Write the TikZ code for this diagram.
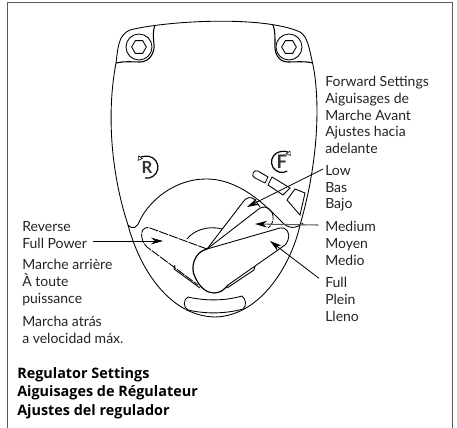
\documentclass[tikz,border=0pt]{standalone}
\usepackage{fontspec}
\setmainfont{Lato}
\newfontfamily\regfont{Open Sans}
\usetikzlibrary{arrows.meta,positioning,shapes.geometric}
\definecolor{frameGray}{RGB}{90,90,90}
\definecolor{labelGray}{RGB}{35,35,35}
\begin{document}
\begin{tikzpicture}[x=0.75pt,y=-0.75pt,>={Stealth[length=9pt,width=5pt]},
  outline/.style={draw=black, line width=0.65pt},
  screwring/.style={circle, outline, minimum size=19.5pt, inner sep=0pt},
  screwhex/.style={regular polygon, regular polygon sides=6, outline, minimum size=11pt, inner sep=0pt},
  leader/.style={->, draw=black, line width=0.6pt},
  turn/.style={line width=0.9pt, -{Triangle[open,length=3.5pt,width=4pt,line width=0.4pt]}},
  caption/.style={align=left, anchor=north west, inner sep=0pt, text=labelGray,
     font=\fontsize{10.5}{12.6}\selectfont},
  captionb/.style={caption, text=black, font=\fontsize{10.8}{14}\regfont\bfseries},
  letter/.style={text=black!80, inner sep=0pt}]
  \useasboundingbox (0,0) rectangle (457,428);
  % frame, open at the bottom
  \draw[frameGray, line width=0.9pt] (7.5,428) -- (7.5,2.5) -- (452.7,2.5) -- (452.7,428);
  % housing
  \draw[outline] (116,63) .. controls (118,48) and (118,35) .. (130,30)
     .. controls (165,21) and (262,15) .. (300,32)
     .. controls (308,37) and (309,48) .. (313,65)
     .. controls (320,100) and (319,160) .. (300,225)
     .. controls (292,262) and (262,316) .. (215,317)
     .. controls (170,316) and (140,270) .. (128,225)
     .. controls (110,170) and (107,110) .. (116,63);
  % screw pockets
  \draw[outline, line width=0.8pt] (116,63) .. controls (125,61) and (133,62) .. (140,62)
     .. controls (150,62) and (155,52) .. (154,44) .. controls (153,36) and (153,30) .. (155,25);
  \draw[outline, line width=0.8pt] (313,63) .. controls (305,61) and (295,62) .. (288,62)
     .. controls (278,62) and (274,52) .. (275,44) .. controls (275,36) and (275,30) .. (273,25);
  \node[screwring] (ringl) at (139,47) {};
  \node[screwring] (ringr) at (289,47) {};
  \node[screwhex] (hexl) at (139,47) {};
  \node[screwhex] (hexr) at (289,47) {};
  % dial
  \draw[outline] (128,225) .. controls (133,230) and (137,228) .. (140,220)
     .. controls (150,200) and (175,179) .. (206,179)
     .. controls (240,179) and (265,205) .. (282,222)
     .. controls (288,229) and (296,229) .. (303,223);
  % slot
  \draw[outline] (188,297) .. controls (205,301) and (225,301) .. (242,296)
     .. controls (246,299) and (247,306) .. (243,309)
     .. controls (225,314) and (205,314) .. (188,310)
     .. controls (183,307) and (183,300) .. (188,297);
  % base
  \draw[outline] (187,239) .. controls (193,231) and (207,225) .. (222,229);
  \draw[outline] (175,265) -- (174,269) -- (200,288);
  \draw[outline] (255,266) -- (254,270) -- (227,288);
  % levers
  \draw[outline, dash pattern=on 7pt off 0.8pt] (207,249) -- (150,228)
     .. controls (143,226) and (140,232) .. (142,238) .. controls (143,243) and (145,245) .. (147,247) -- (198,285);
  \draw[outline] (207,249) -- (243,202) .. controls (246,197) and (252,196) .. (255,200) -- (260,207);
  \draw[outline] (207,249) -- (260,208) .. controls (266,205) and (272,209) .. (273,216);
  \draw[outline, dash pattern=on 3pt off 0.8pt] (273,216) .. controls (274,221) and (271,226) .. (268,228);
  \draw[line width=0.9pt] (207,249) .. controls (194,252) and (190,268) .. (195,277)
     .. controls (200,288) and (207,293) .. (214,293) .. controls (220,293) and (224,290) .. (228,285);
  \draw[outline] (207,249) -- (280,228) .. controls (286,226) and (291,234) .. (288,240)
     .. controls (287,243) and (286,244) .. (285,245) -- (228,285);
  % F and R marks
  \node[letter, font=\fontsize{14}{14}\selectfont\bfseries] (markf) at (282,162) {F};
  \node[letter, font=\fontsize{12.5}{12.5}\selectfont\bfseries] (markr) at (147,167) {R};
  \draw[turn] (287.25,171.1) arc (60:325:10.5);
  \draw[turn] (145,178) arc (100:-145:11);
  % range marks
  \draw[outline] (253,173) .. controls (254,171) and (256,170) .. (258,171) -- (268,177) -- (265,183) -- (255,178)
     .. controls (253,177) and (252,175) .. (253,173);
  \draw[outline] (272,177) -- (290,188) -- (283,195) -- (268,185) -- cycle;
  \draw[outline] (295,189) -- (305,193) -- (300,215) -- (287,200) -- cycle;
  % texts
  \node[caption] (fwd) at (325,76) {Forward Settings\\Aiguisages de\\Marche Avant\\Ajustes hacia\\adelante};
  \node[caption] (low) at (325,165) {Low\\Bas\\Bajo};
  \node[caption] (med) at (325,221) {Medium\\Moyen\\Medio};
  \node[caption] (full) at (325,277) {Full\\Plein\\Lleno};
  \node[caption] (rev) at (22,221) {Reverse\\Full Power};
  \node[caption] (mar) at (22,259) {Marche arrière\\À toute\\puissance};
  \node[caption] (mat) at (22,316) {Marcha atrás\\a velocidad máx.};
  \node[captionb] (reg) at (17,367) {Regulator Settings\\Aiguisages de Régulateur\\Ajustes del regulador};
  % leaders
  \coordinate (lowtip) at (247,207);
  \coordinate (medtip) at (255,224);
  \coordinate (fulltip) at (270,241);
  \coordinate (revtip) at (163,241);
  \draw[leader] ([xshift=-1.5pt,yshift=-3pt]low.north west) -- (lowtip);
  \draw[leader, draw=frameGray, line width=0.8pt, {-Stealth[length=9pt,width=5pt,black]}] ([xshift=-5pt,yshift=-3pt]med.north west) -- (medtip);
  \draw[leader] ([xshift=-4.5pt,yshift=-1pt]full.north west) -- (fulltip);
  \draw[leader] ([xshift=4pt]rev.south east |- revtip) -- (revtip);
\end{tikzpicture}
\end{document}
